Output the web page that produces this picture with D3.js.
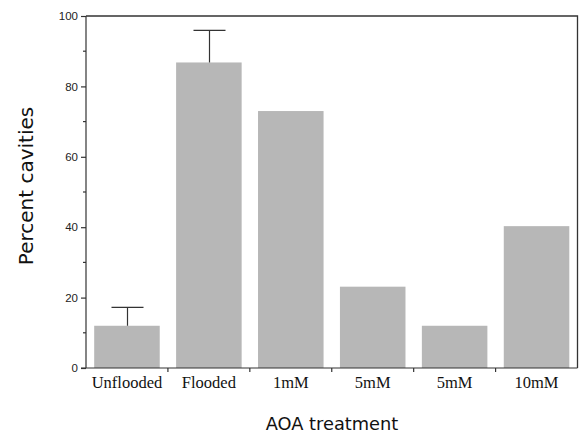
<!DOCTYPE html>
<html><head><meta charset="utf-8">
<script src="https://cdn.jsdelivr.net/npm/d3@7"></script>
<style>body{margin:0;background:#fff}</style>
</head><body>
<svg id="c" width="579" height="434"></svg>
<script>
const categories = ["Unflooded", "Flooded", "1mM", "5mM", "5mM", "10mM"];
const values = [12.0, 86.8, 73.0, 23.1, 12.0, 40.3];
const errors = [5.2, 9.1, null, null, null, null];
const yTicks = [0, 20, 40, 60, 80, 100];
const yMinorTicks = [10, 30, 50, 70, 90];

const svg = d3.select("#c");
const m = {left: 86, right: 1.5, top: 16, bottom: 66};
const W = 579, H = 434;
const x = d3.scaleBand().domain(d3.range(categories.length)).range([m.left, W - m.right]).paddingInner(0.2).paddingOuter(0.1);
const y = d3.scaleLinear().domain([0, 100]).range([H - m.bottom, m.top]);
const ink = "#333";

// bars
svg.append("g").selectAll("rect").data(values).join("rect")
  .attr("x", (d, i) => x(i)).attr("width", x.bandwidth())
  .attr("y", d => y(d)).attr("height", d => y(0) - y(d))
  .attr("fill", "#b7b7b7");

// error bars
const eb = svg.append("g").attr("stroke", ink).attr("stroke-width", 1.2);
values.forEach((v, i) => {
  if (errors[i] == null) return;
  const cx = Math.round(x(i) + x.bandwidth() / 2) + 0.5;
  eb.append("line").attr("x1", cx).attr("x2", cx).attr("y1", y(v)).attr("y2", y(v + errors[i]));
  eb.append("line").attr("x1", cx - 16).attr("x2", cx + 16).attr("y1", y(v + errors[i])).attr("y2", y(v + errors[i]));
});

// frame (top and right)
svg.append("path").attr("fill", "none").attr("stroke", ink).attr("stroke-width", 1.3)
  .attr("d", `M${m.left},${y(100)}H${W - m.right}V${y(0)}`);

// y axis
const yAxis = svg.append("g").attr("transform", `translate(${m.left},0)`)
  .call(d3.axisLeft(y).tickValues(yTicks).tickSize(5).tickPadding(3).tickFormat(d3.format("d")));
yAxis.append("g").selectAll("line").data(yMinorTicks).join("line")
  .attr("x1", -3).attr("x2", 0).attr("y1", d => y(d)).attr("y2", d => y(d)).attr("stroke", ink);
yAxis.selectAll(".domain").attr("d", `M0,${y(100)}V${y(0)}`);
yAxis.selectAll("path,line").attr("stroke", ink).attr("stroke-width", 1.2);
yAxis.selectAll("text").attr("font-family", "Liberation Sans").attr("font-size", 11.5).attr("fill", "#222");

// x axis
const xAxis = svg.append("g").attr("transform", `translate(0,${y(0)})`);
xAxis.append("line").attr("x1", m.left - 5).attr("x2", W - m.right).attr("y1", 0).attr("y2", 0)
  .attr("stroke", ink).attr("stroke-width", 1.2);
const step = x.step();
xAxis.selectAll("line.t").data(d3.range(1, categories.length)).join("line").attr("class", "t")
  .attr("x1", i => x(i) - step * 0.1).attr("x2", i => x(i) - step * 0.1)
  .attr("y1", 0).attr("y2", 4).attr("stroke", ink).attr("stroke-width", 1.2);
xAxis.selectAll("text").data(categories).join("text")
  .attr("x", (d, i) => x(i) + x.bandwidth() / 2).attr("y", 20)
  .attr("text-anchor", "middle").attr("font-family", "Liberation Serif").attr("font-size", 16.5)
  .attr("fill", "#111").text(d => d);

// titles
svg.append("text").attr("transform", `translate(33,186) rotate(-90)`).attr("text-anchor", "middle")
  .attr("font-family", "DejaVu Sans").attr("font-size", 20).attr("fill", "#111").text("Percent cavities");
svg.append("text").attr("x", 332).attr("y", 430).attr("text-anchor", "middle")
  .attr("font-family", "DejaVu Sans").attr("font-size", 17.8).attr("fill", "#111").text("AOA treatment");
</script>
</body></html>
